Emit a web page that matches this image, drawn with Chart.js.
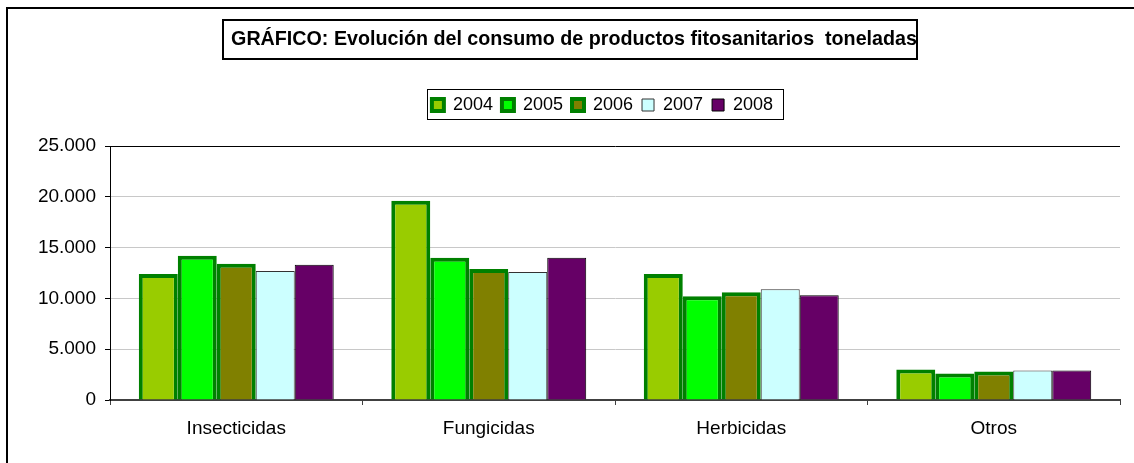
<!DOCTYPE html>
<html>
<head>
<meta charset="utf-8">
<script src="https://cdn.jsdelivr.net/npm/chart.js@4.4.1/dist/chart.umd.min.js"></script>
<style>
  body { margin: 0; background: #fff; }
  canvas { display: block; }
</style>
</head>
<body>
<canvas id="chart" width="1134" height="463"></canvas>
<script>
const categories = ['Insecticidas', 'Fungicidas', 'Herbicidas', 'Otros'];
const years = ['2004', '2005', '2006', '2007', '2008'];
const v2004 = [12400, 19600, 12400, 3000];
const v2005 = [14200, 14000, 10200, 2600];
const v2006 = [13400, 12900, 10600, 2800];
const v2007 = [12700, 12600, 10900, 2900];
const v2008 = [13300, 14000, 10300, 2900];
const yTickLabels = ['0', '5.000', '10.000', '15.000', '20.000', '25.000'];
const titleText = 'GRÁFICO: Evolución del consumo de productos fitosanitarios  toneladas';

const fillColors = ['#99cc00', '#00ff00', '#808000', '#ccffff', '#660066'];
const edgeColors = ['#008000', '#008000', '#008000', '#333333', '#000000'];
const edgeWidths = [4, 4, 4, 1, 1];
const seriesValues = [v2004, v2005, v2006, v2007, v2008];

const FONT = '"Liberation Sans", Arial, sans-serif';
Chart.defaults.font.family = FONT;
Chart.defaults.color = '#000';

// frames around the whole chart, the title and the legend
const framesPlugin = {
    id: 'frames',
    beforeLayout(chart) {
        const legend = chart.legend;
        if (legend && !legend._extraFit) {
            const fit = Object.getPrototypeOf(legend).fit;
            legend.fit = function () {
                fit.call(this);
                this.height += 22;
            };
            legend._extraFit = true;
        }
    },
    afterLayout(chart) {
        // the title and legend sit a bit right of centre in the original
        chart.legend.left += 42.5;
        chart.legend.right += 42.5;
        chart.titleBlock.left += 14;
        chart.titleBlock.right += 14;
    },
    afterDraw(chart) {
        const ctx = chart.ctx;
        ctx.save();
        ctx.strokeStyle = '#000';

        ctx.lineWidth = 2;
        ctx.strokeRect(7, 8, 1300, 1000);

        const tb = chart.titleBlock;
        const cx = (tb.left + tb.right) / 2 - 4;
        ctx.strokeRect(cx - 347, 20, 694, 39);

        const hb = chart.legend.legendHitBoxes;
        const last = hb[hb.length - 1];
        const midY = hb[0].top + hb[0].height / 2;
        const x0 = Math.round(hb[0].left - 5);
        const x1 = Math.round(last.left + last.width + 10);
        ctx.lineWidth = 1;
        ctx.strokeRect(x0 + 0.5, Math.round(midY - 16) + 0.5, x1 - x0, 30);
        ctx.restore();
    }
};

new Chart(document.getElementById('chart'), {
    type: 'bar',
    data: {
        labels: categories,
        datasets: years.map((y, i) => ({
            label: y,
            data: seriesValues[i],
            backgroundColor: fillColors[i],
            borderColor: edgeColors[i],
            borderWidth: edgeWidths[i],
            categoryPercentage: 0.772,
            barPercentage: 1.0
        }))
    },
    options: {
        responsive: false,
        animation: false,
        events: [],
        layout: { padding: { left: 0, right: 14, top: 0, bottom: 0 } },
        plugins: {
            title: {
                display: true,
                text: titleText,
                font: { size: 19.7, weight: 'bold' },
                color: '#000',
                padding: { top: 27.5, bottom: 35.86 }
            },
            legend: {
                display: true,
                position: 'top',
                labels: {
                    boxWidth: 12,
                    boxHeight: 12,
                    padding: 9,
                    color: '#000',
                    font: { size: 18 }
                }
            },
            tooltip: { enabled: false }
        },
        scales: {
            x: {
                afterFit(scale) { scale.height = 63; },
                grid: {
                    display: true,
                    drawOnChartArea: false,
                    tickLength: 5,
                    tickColor: '#404040',
                    offset: true
                },
                border: { display: true, color: '#404040', width: 2 },
                ticks: { padding: 12, font: { size: 19 }, color: '#000' }
            },
            y: {
                min: 0,
                max: 25000,
                afterFit(scale) { scale.width = 110; },
                grid: {
                    color: (c) => (c.tick && c.tick.value === 25000 ? '#000' : '#c8c8c8'),
                    tickLength: 5,
                    tickColor: '#000'
                },
                border: { display: true, color: '#000', width: 1 },
                ticks: {
                    stepSize: 5000,
                    padding: 9,
                    font: { size: 19 },
                    color: '#000',
                    callback: (value, index) => yTickLabels[index]
                }
            }
        }
    },
    plugins: [framesPlugin]
});
</script>
</body>
</html>
